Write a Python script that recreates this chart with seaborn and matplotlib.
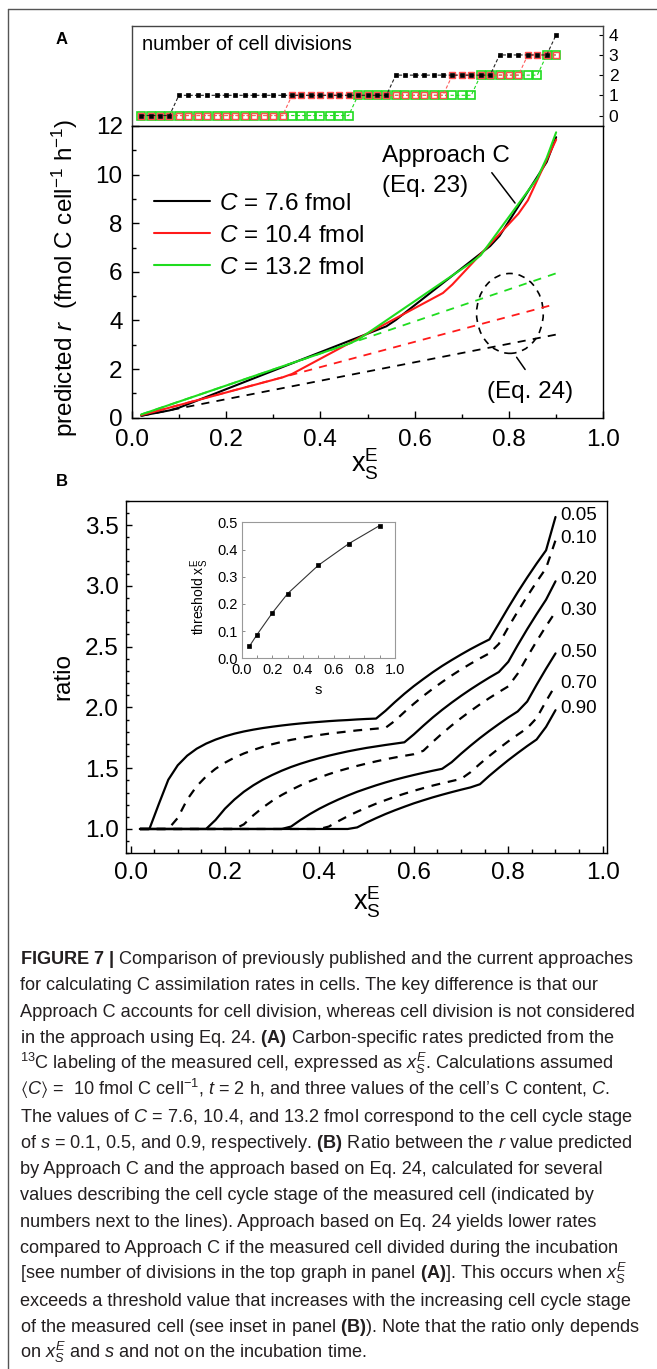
import matplotlib
matplotlib.use("Agg")
import matplotlib.pyplot as plt
import seaborn as sns
from matplotlib.patches import Ellipse
from matplotlib.lines import Line2D
from matplotlib.ticker import MultipleLocator, FormatStrFormatter

# ---------------- data ----------------
X_GRID = [0.02, 0.04, 0.06, 0.08, 0.10, 0.12, 0.14, 0.16, 0.18, 0.20,
          0.22, 0.24, 0.26, 0.28, 0.30, 0.32, 0.34, 0.36, 0.38, 0.40,
          0.42, 0.44, 0.46, 0.48, 0.50, 0.52, 0.54, 0.56, 0.58, 0.60,
          0.62, 0.64, 0.66, 0.68, 0.70, 0.72, 0.74, 0.76, 0.78, 0.80,
          0.82, 0.84, 0.86, 0.88, 0.90]

# number of cell divisions (top graph of panel A)
DIV_BLACK = [0, 0, 0, 0, 1, 1, 1, 1, 1, 1,
             1, 1, 1, 1, 1, 1, 1, 1, 1, 1,
             1, 1, 1, 1, 1, 1, 1, 2, 2, 2,
             2, 2, 2, 2, 2, 2, 2, 2, 3, 3,
             3, 3, 3, 3, 4]
DIV_RED = [0, 0, 0, 0, 0, 0, 0, 0, 0, 0,
           0, 0, 0, 0, 0, 0, 1, 1, 1, 1,
           1, 1, 1, 1, 1, 1, 1, 1, 1, 1,
           1, 1, 1, 2, 2, 2, 2, 2, 2, 2,
           2, 3, 3, 3, 3]
DIV_GREEN = [0, 0, 0, 0, 0, 0, 0, 0, 0, 0,
             0, 0, 0, 0, 0, 0, 0, 0, 0, 0,
             0, 0, 0, 1, 1, 1, 1, 1, 1, 1,
             1, 1, 1, 1, 1, 1, 2, 2, 2, 2,
             2, 2, 2, 3, 3]

# predicted r, Approach C (Eq. 23)
X_C_BLACK = [0.02, 0.08, 0.10, 0.54, 0.56, 0.76, 0.78, 0.88, 0.90]
R_C_BLACK = [0.08, 0.30, 0.41, 3.76, 4.02, 7.06, 7.48, 10.52, 11.54]
X_C_RED = [0.02, 0.32, 0.34, 0.66, 0.68, 0.82, 0.84, 0.90]
R_C_RED = [0.10, 1.66, 1.80, 5.13, 5.48, 8.39, 8.94, 11.44]
X_C_GREEN = [0.02, 0.46, 0.48, 0.72, 0.74, 0.86, 0.88, 0.90]
R_C_GREEN = [0.13, 3.04, 3.21, 6.38, 6.68, 9.85, 10.69, 11.74]

# predicted r, Eq. 24
X_EQ24 = [0.02, 0.90]
R_EQ24_BLACK = [0.076, 3.42]
R_EQ24_RED = [0.104, 4.68]
R_EQ24_GREEN = [0.132, 5.94]

LEGEND_LABELS = [r"$C$ = 7.6 fmol", r"$C$ = 10.4 fmol", r"$C$ = 13.2 fmol"]

# panel B: ratio for several s values
S_LABELS = ["0.05", "0.10", "0.20", "0.30", "0.50", "0.70", "0.90"]
RATIO_005 = [1.0, 1.0, 1.206, 1.405, 1.524, 1.603, 1.660, 1.702, 1.735, 1.762,
             1.784, 1.802, 1.817, 1.830, 1.841, 1.851, 1.860, 1.868, 1.875, 1.881,
             1.887, 1.892, 1.896, 1.901, 1.905, 1.908, 1.972, 2.044, 2.112, 2.175,
             2.233, 2.289, 2.341, 2.389, 2.435, 2.479, 2.520, 2.559, 2.689, 2.821,
             2.948, 3.068, 3.183, 3.292, 3.566]
RATIO_010 = [1.0, 1.0, 1.0, 1.0, 1.091, 1.242, 1.351, 1.432, 1.495, 1.545,
             1.587, 1.621, 1.650, 1.675, 1.697, 1.716, 1.733, 1.747, 1.761, 1.773,
             1.784, 1.793, 1.802, 1.811, 1.818, 1.825, 1.832, 1.890, 1.962, 2.030,
             2.094, 2.153, 2.209, 2.262, 2.312, 2.359, 2.403, 2.445, 2.522, 2.659,
             2.789, 2.913, 3.032, 3.145, 3.374]
RATIO_020 = [1.0, 1.0, 1.0, 1.0, 1.0, 1.0, 1.0, 1.0, 1.074, 1.167,
             1.242, 1.306, 1.359, 1.405, 1.444, 1.479, 1.510, 1.537, 1.561, 1.583,
             1.603, 1.621, 1.638, 1.653, 1.667, 1.679, 1.691, 1.702, 1.713, 1.778,
             1.849, 1.917, 1.980, 2.039, 2.095, 2.148, 2.198, 2.246, 2.291, 2.375,
             2.512, 2.643, 2.767, 2.886, 3.037]
RATIO_030 = [1.0, 1.0, 1.0, 1.0, 1.0, 1.0, 1.0, 1.0, 1.0, 1.0,
             1.0, 1.038, 1.112, 1.176, 1.231, 1.279, 1.321, 1.359, 1.393, 1.423,
             1.451, 1.476, 1.498, 1.519, 1.538, 1.556, 1.573, 1.588, 1.602, 1.615,
             1.643, 1.716, 1.786, 1.851, 1.912, 1.970, 2.025, 2.077, 2.126, 2.173,
             2.278, 2.414, 2.544, 2.668, 2.786]
RATIO_050 = [1.0, 1.0, 1.0, 1.0, 1.0, 1.0, 1.0, 1.0, 1.0, 1.0,
             1.0, 1.0, 1.0, 1.0, 1.0, 1.0, 1.020, 1.074, 1.123, 1.167,
             1.206, 1.242, 1.275, 1.306, 1.333, 1.359, 1.383, 1.405, 1.425, 1.444,
             1.462, 1.479, 1.495, 1.549, 1.619, 1.685, 1.748, 1.807, 1.863, 1.917,
             1.967, 2.048, 2.186, 2.318, 2.444]
RATIO_070 = [1.0, 1.0, 1.0, 1.0, 1.0, 1.0, 1.0, 1.0, 1.0, 1.0,
             1.0, 1.0, 1.0, 1.0, 1.0, 1.0, 1.0, 1.0, 1.0, 1.0,
             1.020, 1.064, 1.105, 1.142, 1.176, 1.208, 1.237, 1.265, 1.290, 1.314,
             1.336, 1.357, 1.376, 1.394, 1.412, 1.467, 1.536, 1.601, 1.662, 1.721,
             1.776, 1.829, 1.912, 2.051, 2.183]
RATIO_090 = [1.0, 1.0, 1.0, 1.0, 1.0, 1.0, 1.0, 1.0, 1.0, 1.0,
             1.0, 1.0, 1.0, 1.0, 1.0, 1.0, 1.0, 1.0, 1.0, 1.0,
             1.0, 1.0, 1.0, 1.013, 1.053, 1.089, 1.123, 1.154, 1.183, 1.211,
             1.236, 1.260, 1.282, 1.303, 1.323, 1.342, 1.368, 1.438, 1.503, 1.566,
             1.625, 1.682, 1.736, 1.840, 1.977]

# inset: threshold x_S^E vs s
S_INSET = [0.05, 0.10, 0.20, 0.30, 0.50, 0.70, 0.90]
THRESHOLD = [0.044, 0.087, 0.167, 0.238, 0.342, 0.422, 0.488]

CAPTION = [
    r"$\mathbf{FIGURE\ 7\ |}$ Comparison of previously published and the current approaches",
    "for calculating C assimilation rates in cells. The key difference is that our",
    "Approach C accounts for cell division, whereas cell division is not considered",
    r"in the approach using Eq. 24. $\mathbf{(A)}$ Carbon-specific rates predicted from the",
    r"$^{13}$C labeling of the measured cell, expressed as $x_S^E$. Calculations assumed",
    r"$\langle C\rangle$ =  10 fmol C cell$^{-1}$, $t$ = 2 h, and three values of the cell’s C content, $C$.",
    r"The values of $C$ = 7.6, 10.4, and 13.2 fmol correspond to the cell cycle stage",
    r"of $s$ = 0.1, 0.5, and 0.9, respectively. $\mathbf{(B)}$ Ratio between the $r$ value predicted",
    "by Approach C and the approach based on Eq. 24, calculated for several",
    "values describing the cell cycle stage of the measured cell (indicated by",
    "numbers next to the lines). Approach based on Eq. 24 yields lower rates",
    "compared to Approach C if the measured cell divided during the incubation",
    r"[see number of divisions in the top graph in panel $\mathbf{(A)}$]. This occurs when $x_S^E$",
    "exceeds a threshold value that increases with the increasing cell cycle stage",
    r"of the measured cell (see inset in panel $\mathbf{(B)}$). Note that the ratio only depends",
    r"on $x_S^E$ and $s$ and not on the incubation time.",
]

# ---------------- style ----------------
sns.set_style("ticks")
plt.rcParams.update({
    "font.family": ["Liberation Sans", "DejaVu Sans"],
    "mathtext.fontset": "custom",
    "mathtext.rm": "Liberation Sans",
    "mathtext.it": "Liberation Sans:italic",
    "mathtext.bf": "Liberation Sans:bold",
    "mathtext.sf": "Liberation Sans",
    "mathtext.fallback": "stixsans",
    "axes.edgecolor": "black",
    "axes.labelcolor": "black",
    "text.color": "black",
    "xtick.color": "black",
    "ytick.color": "black",
    "axes.linewidth": 1.0,
    "xtick.direction": "in",
    "ytick.direction": "in",
})

GREEN = "#1fdc1f"
RED = "#ff1a1a"
FS = 17.5

W, H = 657, 1369
fig = plt.figure(figsize=(W / 100, H / 100), dpi=100)
fig.patch.set_facecolor("white")


def box(l, t, r, b):
    return [l / W, 1 - b / H, (r - l) / W, (b - t) / H]


ax_top = fig.add_axes(box(131.7, 25.5, 603.3, 126))
ax_a = fig.add_axes(box(131.7, 126, 603.3, 417.7))
ax_b = fig.add_axes(box(125.7, 500.7, 607.3, 853.3))
ax_in = fig.add_axes(box(241.7, 522.3, 395, 658.3))

# ---------------- top graph: number of divisions ----------------
sns.lineplot(x=X_GRID, y=DIV_GREEN, ax=ax_top, color=GREEN, lw=0.8,
             linestyle=(0, (3, 2)), marker="s", markersize=6.4,
             markerfacecolor="none", markeredgecolor=GREEN,
             markeredgewidth=1.2, clip_on=False)
sns.lineplot(x=X_GRID, y=DIV_RED, ax=ax_top, color="#ff5a5a", lw=0.8,
             linestyle=(0, (3, 2)), marker="s", markersize=4.5,
             markerfacecolor="none", markeredgecolor="#ff4d4d",
             markeredgewidth=1.0, clip_on=False)
sns.lineplot(x=X_GRID, y=DIV_BLACK, ax=ax_top, color="#222222", lw=0.8,
             linestyle=(0, (3, 2)), marker="s", markersize=2.2,
             markerfacecolor="black", markeredgecolor="black",
             markeredgewidth=0.5, clip_on=False)
ax_top.set_xlim(0, 1)
ax_top.set_ylim(-0.52, 4.46)
ax_top.set_xticks([])
ax_top.set_yticks([0, 1, 2, 3, 4])
ax_top.yaxis.tick_right()
ax_top.tick_params(axis="y", which="both", direction="in", length=3,
                   pad=4, labelsize=12.5, left=False, right=True)
ax_top.set_xlabel("")
ax_top.set_ylabel("")
for sp in ax_top.spines.values():
    sp.set_color("#444444")
fig.text(142 / W, 1 - 50.5 / H, "number of cell divisions", fontsize=14.5,
         ha="left", va="baseline")

# ---------------- panel A ----------------
for yv, col in [(R_EQ24_BLACK, "black"), (R_EQ24_RED, RED), (R_EQ24_GREEN, GREEN)]:
    sns.lineplot(x=X_EQ24, y=yv, ax=ax_a, color=col, lw=1.3)
    ax_a.lines[-1].set_dashes((4.5, 4))

solid_handles = []
for xv, yv, col, lab in [(X_C_BLACK, R_C_BLACK, "black", LEGEND_LABELS[0]),
                         (X_C_RED, R_C_RED, RED, LEGEND_LABELS[1]),
                         (X_C_GREEN, R_C_GREEN, GREEN, LEGEND_LABELS[2])]:
    sns.lineplot(x=xv, y=yv, ax=ax_a, color=col, lw=1.5)
    ln = ax_a.lines[-1]
    ln.set_label(lab)
    solid_handles.append(ln)

ax_a.legend(handles=solid_handles, loc="upper left", bbox_to_anchor=(0.047, 0.772),
            frameon=False, fontsize=FS, handlelength=2.3, handletextpad=0.4,
            labelspacing=0.42, borderpad=0, borderaxespad=0)

ax_a.set_xlim(0, 1)
ax_a.set_ylim(0, 12)
ax_a.xaxis.set_major_locator(MultipleLocator(0.2))
ax_a.xaxis.set_minor_locator(MultipleLocator(0.1))
ax_a.yaxis.set_major_locator(MultipleLocator(2))
ax_a.yaxis.set_minor_locator(MultipleLocator(1))
ax_a.xaxis.set_major_formatter(FormatStrFormatter("%.1f"))
ax_a.tick_params(axis="x", which="major", length=5, width=1, labelsize=FS, pad=8,
                 top=False)
ax_a.tick_params(axis="y", which="major", length=5, width=1, labelsize=FS, pad=6.5,
                 right=False)
ax_a.tick_params(which="minor", length=3, width=1, top=False, right=False)
ax_a.set_ylabel(r"predicted $r$  (fmol C cell$^{-1}$ h$^{-1}$)", fontsize=FS)
ax_a.yaxis.set_label_coords(-0.11, 0.48)
ax_a.set_xlabel(r"$\mathrm{x}_\mathrm{S}^\mathrm{E}$", fontsize=FS + 2)
ax_a.xaxis.set_label_coords(0.495, -0.1)

ax_a.text(0.530, 10.52, "Approach C", fontsize=FS, ha="left", va="baseline")
ax_a.text(0.530, 9.29, "(Eq. 23)", fontsize=FS, ha="left", va="baseline")
ax_a.annotate("", xy=(0.8164, 8.74), xytext=(0.760, 10.17),
              arrowprops=dict(arrowstyle="-", lw=1.1, color="black"))
ax_a.text(0.753, 0.80, "(Eq. 24)", fontsize=FS, ha="left", va="baseline")
ax_a.annotate("", xy=(0.8128, 2.58), xytext=(0.8376, 1.89),
              arrowprops=dict(arrowstyle="-", lw=1.1, color="black"))
ell = Ellipse((0.802, 4.29), 0.1414, 3.287, fill=False, lw=1.2,
              edgecolor="black", linestyle=(0, (4, 3.5)))
ax_a.add_patch(ell)

# ---------------- panel B ----------------
ratios = [RATIO_005, RATIO_010, RATIO_020, RATIO_030, RATIO_050, RATIO_070, RATIO_090]
for i, (rv, lab) in enumerate(zip(ratios, S_LABELS)):
    sns.lineplot(x=X_GRID, y=rv, ax=ax_b, color="black", lw=1.6)
    if i % 2 == 1:
        ax_b.lines[-1].set_dashes((4, 3.5))
    ax_b.annotate(lab, xy=(X_GRID[-1], rv[-1]), xytext=(3.5, 1.0),
                  textcoords="offset points", fontsize=13.5,
                  ha="left", va="center")

ax_b.set_xlim(-0.0102, 1.0097)
ax_b.set_ylim(0.8, 3.7)
ax_b.xaxis.set_major_locator(MultipleLocator(0.2))
ax_b.xaxis.set_minor_locator(MultipleLocator(0.05))
ax_b.yaxis.set_major_locator(MultipleLocator(0.5))
ax_b.yaxis.set_minor_locator(MultipleLocator(0.1))
ax_b.xaxis.set_major_formatter(FormatStrFormatter("%.1f"))
ax_b.yaxis.set_major_formatter(FormatStrFormatter("%.1f"))
ax_b.tick_params(axis="x", which="major", length=5, width=1, labelsize=FS, pad=6,
                 top=False)
ax_b.tick_params(axis="x", which="minor", length=3, width=1, top=False)
ax_b.tick_params(axis="y", which="major", length=4, width=1, labelsize=FS, pad=5,
                 right=False)
ax_b.tick_params(axis="y", which="minor", length=2.5, width=1, right=False)
ax_b.set_ylabel("ratio", fontsize=FS)
ax_b.yaxis.set_label_coords(-0.107, 0.5)
ax_b.set_xlabel(r"$\mathrm{x}_\mathrm{S}^\mathrm{E}$", fontsize=FS + 2)
ax_b.xaxis.set_label_coords(0.5, -0.09)

# ---------------- inset ----------------
ax_in.set_facecolor("white")
ax_in.set_zorder(5)
sns.lineplot(x=S_INSET, y=THRESHOLD, ax=ax_in, color="#333333", lw=0.8,
             marker="s", markersize=3.3, markerfacecolor="black",
             markeredgecolor="black", markeredgewidth=0.5)
ax_in.set_xlim(0, 1)
ax_in.set_ylim(0, 0.5)
ax_in.xaxis.set_major_locator(MultipleLocator(0.2))
ax_in.xaxis.set_minor_locator(MultipleLocator(0.1))
ax_in.yaxis.set_major_locator(MultipleLocator(0.1))
ax_in.xaxis.set_major_formatter(FormatStrFormatter("%.1f"))
ax_in.yaxis.set_major_formatter(FormatStrFormatter("%.1f"))
ax_in.tick_params(which="both", length=2, width=0.6, color="#777777",
                  labelsize=10.5, top=False, right=False)
ax_in.tick_params(axis="x", pad=3.5)
ax_in.tick_params(axis="y", pad=2.5)
for sp in ax_in.spines.values():
    sp.set_color("#999999")
    sp.set_linewidth(0.8)
ax_in.set_ylabel(r"threshold $\mathrm{x}_\mathrm{S}^\mathrm{E}$", fontsize=10)
ax_in.yaxis.set_label_coords(-0.2, 0.454)
ax_in.set_xlabel("s", fontsize=10.5)
ax_in.xaxis.set_label_coords(0.498, -0.18)

# ---------------- panel letters, frame, caption ----------------
fig.text(61.7 / W, 1 - 39.5 / H, "A", fontsize=12, fontweight="bold",
         ha="center", va="center")
fig.text(61.7 / W, 1 - 481 / H, "B", fontsize=12, fontweight="bold",
         ha="center", va="center")

fig.add_artist(Line2D([8 / W, 8 / W], [0, 1 - 9 / H], color="#555555", lw=1.0))
fig.add_artist(Line2D([8 / W, 1], [1 - 9 / H, 1 - 9 / H], color="#555555", lw=1.0))

for i, line in enumerate(CAPTION):
    fig.text(20 / W, 1 - (964 + 26.27 * i) / H, line, fontsize=13.1,
             ha="left", va="baseline", color="#231f20")

fig.savefig("out.png", dpi=100, facecolor="white")
